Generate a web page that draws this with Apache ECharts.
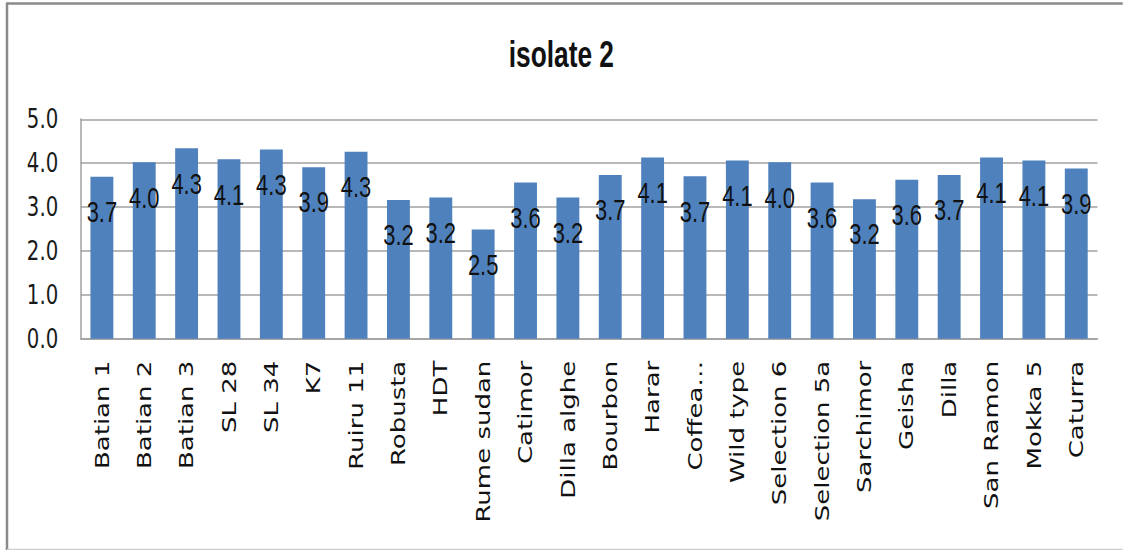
<!DOCTYPE html>
<html>
<head>
<meta charset="utf-8">
<script src="https://cdn.jsdelivr.net/npm/echarts@6/dist/echarts.min.js"></script>
<style>
  html, body { margin: 0; padding: 0; background: #fff; overflow: hidden; }
  #wrap { width: 1123px; height: 550px; overflow: hidden; }
  /* the chart is laid out wider and squeezed horizontally so that its
     lettering comes out tall and narrow */
  #chart { width: 1538px; height: 550px; transform: scaleX(0.73); transform-origin: 0 0; }
</style>
</head>
<body>
<div id="wrap"><div id="chart"></div></div>
<script>
// Coffee varieties and their isolate 2 scores
const categories = [
  'Batian 1', 'Batian 2', 'Batian 3', 'SL 28', 'SL 34', 'K7', 'Ruiru 11',
  'Robusta', 'HDT', 'Rume sudan', 'Catimor', 'Dilla alghe', 'Bourbon',
  'Harar', 'Coffea…', 'Wild type', 'Selection 6', 'Selection 5a',
  'Sarchimor', 'Geisha', 'Dilla', 'San Ramon', 'Mokka 5', 'Caturra'
];
const scores = [
  3.69, 4.02, 4.34, 4.09, 4.31, 3.91, 4.26,
  3.16, 3.22, 2.49, 3.56, 3.22, 3.73,
  4.13, 3.70, 4.06, 4.02, 3.56,
  3.18, 3.62, 3.73, 4.13, 4.06, 3.88
];
const yTicks = [0, 1, 2, 3, 4, 5];

const SQUEEZE = 0.73;          // horizontal squeeze applied to #chart
const px = v => v / SQUEEZE;   // horizontal page pixels -> chart pixels

const chart = echarts.init(document.getElementById('chart'), null, { renderer: 'svg' });
chart.setOption({
  animation: false,
  backgroundColor: '#ffffff',
  title: {
    text: 'isolate 2',
    left: 'center',
    top: 31,
    textStyle: {
      fontFamily: '"Liberation Sans", Arial, sans-serif',
      fontWeight: 'bold',
      fontSize: 36,
      color: '#111'
    }
  },
  // frame: heavy top and left edges, faint bottom edge
  graphic: [
    {
      type: 'line',
      shape: { x1: px(6), y1: 3.5, x2: px(1123), y2: 3.5 },
      style: { stroke: '#8a8a8a', lineWidth: 2.5 },
      silent: true
    },
    {
      type: 'line',
      shape: { x1: px(7), y1: 3, x2: px(7), y2: 550 },
      style: { stroke: '#8a8a8a', lineWidth: 2.5 / SQUEEZE },
      silent: true
    },
    {
      type: 'line',
      shape: { x1: px(7), y1: 549.5, x2: px(1123), y2: 549.5 },
      style: { stroke: '#cfcfcf', lineWidth: 1.5 },
      silent: true
    }
  ],
  grid: { left: px(80.7), right: px(25.3), top: 119.3, bottom: 211.3 },
  xAxis: {
    type: 'category',
    data: categories,
    axisLine: { show: true, lineStyle: { color: '#a0a0a0', width: 1.5 } },
    axisTick: { show: false },
    axisLabel: {
      interval: 0,
      rotate: 90,
      margin: 22,
      fontFamily: '"DejaVu Sans", sans-serif',
      fontSize: 26,
      color: '#111'
    }
  },
  yAxis: {
    type: 'value',
    min: yTicks[0],
    max: yTicks[yTicks.length - 1],
    interval: 1,
    axisLine: { show: true, lineStyle: { color: '#a0a0a0', width: 1.5 / SQUEEZE } },
    axisTick: { show: false },
    splitLine: { show: true, lineStyle: { color: '#a0a0a0', width: 1.5 } },
    axisLabel: {
      margin: px(22.5),
      fontFamily: '"DejaVu Sans", sans-serif',
      fontSize: 27,
      color: '#1a1a1a',
      formatter: v => v.toFixed(1)
    }
  },
  series: [{
    type: 'bar',
    data: scores,
    barWidth: '54%',
    itemStyle: { color: '#4f81bd' },
    label: {
      show: true,
      position: 'insideTop',
      distance: 20,
      fontFamily: '"Liberation Sans", Arial, sans-serif',
      fontSize: 30,
      color: '#111',
      textBorderWidth: 0,
      formatter: p => p.value.toFixed(1)
    }
  }]
});
</script>
</body>
</html>
